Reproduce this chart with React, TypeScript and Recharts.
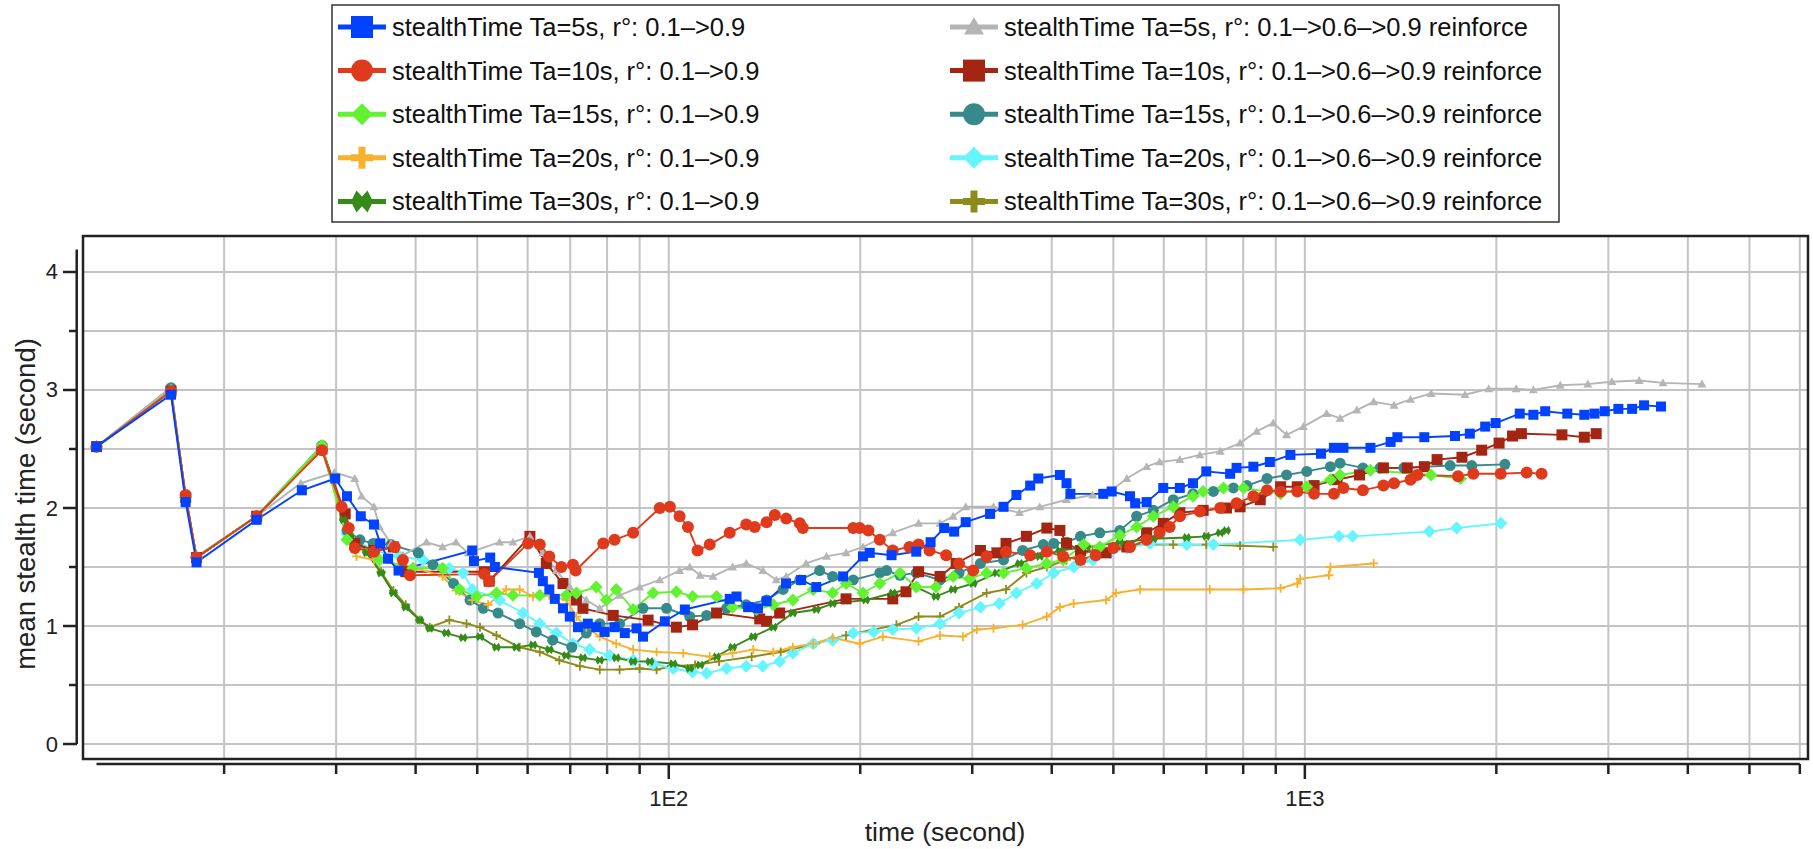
import { LineChart, Line, XAxis, YAxis, CartesianGrid, ReferenceLine, ReferenceArea } from 'recharts';

type Pt = [number, number];

// axis ticks
const xTicks = [20, 30, 40, 50, 60, 70, 80, 90, 100, 200, 300, 400, 500, 600, 700, 800, 900, 1000, 2000, 3000, 4000, 5000, 6000];
const xTickLabels: Record<number, string> = { 100: '1E2', 1000: '1E3' };
const yTicks = [0, 0.5, 1, 1.5, 2, 2.5, 3, 3.5, 4];
const xDomain: [number, number] = [12, 6180];
const yDomain: [number, number] = [-0.127, 4.305];

// series, [time, mean stealth time]
const ta5: Pt[] = [[12.6, 2.52], [16.5, 2.96], [17.4, 2.05], [18.1, 1.54], [22.5, 1.9], [26.5, 2.15], [29.9, 2.25], [31.2, 2.1], [32.8, 1.93], [34.4, 1.86], [35.2, 1.7], [36.2, 1.57], [37.6, 1.47], [49.1, 1.64], [49.4, 1.55], [52.4, 1.58], [53.3, 1.5], [62.5, 1.45], [63.4, 1.38], [64.9, 1.31], [66.2, 1.23], [68.2, 1.15], [69.9, 1.08], [72, 0.99], [74.6, 1.02], [76.9, 0.99], [79.3, 0.95], [82.2, 0.99], [85.3, 0.94], [89, 0.98], [91.1, 0.91], [98.6, 1.04], [106, 1.14], [124.7, 1.23], [127.8, 1.25], [133.3, 1.16], [138.1, 1.15], [142.5, 1.21], [152.9, 1.36], [161.5, 1.39], [170.6, 1.33], [188, 1.42], [202, 1.59], [207, 1.62], [224, 1.6], [245, 1.63], [258, 1.71], [271, 1.83], [281, 1.8], [293, 1.88], [320, 1.95], [336, 2.01], [352, 2.11], [370, 2.19], [381, 2.25], [412, 2.28], [422, 2.21], [428, 2.12], [482, 2.12], [497, 2.14], [531, 2.1], [541, 2.04], [564, 2.05], [599, 2.17], [636, 2.17], [667, 2.21], [700, 2.31], [763, 2.29], [781, 2.34], [830, 2.35], [881, 2.39], [949, 2.45], [1060, 2.46], [1111, 2.51], [1150, 2.51], [1268, 2.51], [1364, 2.56], [1398, 2.6], [1541, 2.6], [1722, 2.61], [1817, 2.63], [1921, 2.69], [1995, 2.72], [2177, 2.8], [2287, 2.79], [2387, 2.82], [2586, 2.8], [2750, 2.79], [2853, 2.8], [2961, 2.82], [3111, 2.84], [3270, 2.84], [3414, 2.87], [3630, 2.86]];
const ta10: Pt[] = [[12.6, 2.52], [16.5, 2.99], [17.4, 2.11], [18.1, 1.58], [22.5, 1.93], [28.5, 2.49], [30.6, 2.01], [31.4, 1.83], [32.1, 1.66], [34.4, 1.63], [37.1, 1.67], [38.2, 1.56], [39.2, 1.43], [51.3, 1.44], [52.2, 1.38], [60.1, 1.7], [62.7, 1.69], [64.9, 1.59], [67.8, 1.5], [70.7, 1.52], [71.4, 1.47], [78.9, 1.7], [82.2, 1.73], [87.9, 1.79], [96.8, 2.0], [100.4, 2.01], [104, 1.93], [107.2, 1.84], [111, 1.64], [116, 1.69], [124.7, 1.79], [132.4, 1.86], [136.5, 1.84], [142.5, 1.88], [146.8, 1.94], [153, 1.91], [160.7, 1.87], [162.5, 1.83], [195, 1.83], [199.6, 1.83], [206, 1.81], [214.7, 1.73], [225, 1.64], [239, 1.67], [247, 1.69], [257, 1.64], [273, 1.6], [286, 1.53], [301, 1.47], [316, 1.59], [339, 1.63], [370, 1.6], [393, 1.63], [417, 1.59], [444, 1.56], [469, 1.6], [500, 1.66], [531, 1.67], [564, 1.73], [591, 1.79], [613, 1.84], [636, 1.93], [684, 1.97], [736, 2.0], [781, 2.04], [830, 2.1], [872, 2.15], [916, 2.14], [973, 2.14], [1034, 2.12], [1111, 2.12], [1150, 2.17], [1234, 2.15], [1329, 2.19], [1381, 2.21], [1466, 2.24], [1502, 2.28], [1741, 2.27], [1840, 2.29], [2032, 2.29], [2232, 2.3], [2356, 2.29]];
const ta15: Pt[] = [[12.6, 2.52], [16.5, 2.99], [17.4, 2.09], [18.1, 1.58], [22.5, 1.93], [28.5, 2.53], [31.2, 1.73], [35.1, 1.56], [39.6, 1.49], [44.1, 1.49], [46.9, 1.31], [49.9, 1.25], [53.6, 1.28], [56.9, 1.26], [62.7, 1.26], [69, 1.26], [71.6, 1.28], [76.9, 1.33], [79.8, 1.22], [82.7, 1.31], [87.9, 1.14], [94.5, 1.28], [102.8, 1.29], [109, 1.25], [118.9, 1.25], [126, 1.16], [137.4, 1.14], [146, 1.18], [156.7, 1.22], [168.7, 1.31], [181, 1.28], [190, 1.36], [202, 1.28], [214.7, 1.36], [231, 1.45], [245, 1.33], [263, 1.33], [280, 1.42], [297, 1.4], [316, 1.45], [336, 1.45], [365, 1.49], [393, 1.53], [417, 1.56], [449, 1.69], [476, 1.67], [512, 1.77], [544, 1.84], [578, 1.93], [621, 2.01], [667, 2.1], [692, 2.14], [745, 2.17], [801, 2.17], [916, 2.12], [1007, 2.18], [1097, 2.24], [1136, 2.28], [1268, 2.32], [1579, 2.28], [1757, 2.25]];
const ta20: Pt[] = [[12.6, 2.52], [16.5, 2.99], [17.4, 2.09], [18.1, 1.58], [22.5, 1.93], [28.5, 2.5], [32.3, 1.59], [34.4, 1.56], [39.6, 1.5], [44.1, 1.42], [46.3, 1.3], [49.1, 1.22], [52, 1.18], [55.5, 1.31], [58.3, 1.31], [61.2, 1.25], [64.9, 1.26], [69, 1.22], [71.6, 1.08], [74.2, 0.99], [77.9, 0.91], [82.7, 0.85], [87.9, 0.8], [95.7, 0.78], [105.4, 0.77], [116, 0.74], [126, 0.77], [135.8, 0.8], [146, 0.78], [156.7, 0.82], [168.7, 0.85], [181, 0.9], [199.6, 0.85], [217, 0.91], [247, 0.87], [267, 0.92], [290, 0.91], [305, 0.97], [324, 0.98], [360, 1.01], [393, 1.08], [412, 1.16], [433, 1.19], [487, 1.22], [505, 1.28], [551, 1.31], [709, 1.31], [801, 1.31], [916, 1.32], [973, 1.36], [983, 1.4], [1091, 1.43], [1097, 1.5], [1283, 1.53]];
const ta30: Pt[] = [[12.6, 2.52], [16.5, 2.99], [17.4, 2.09], [18.1, 1.58], [22.5, 1.93], [28.5, 2.5], [30.8, 1.9], [31.5, 1.76], [33.5, 1.62], [35.3, 1.45], [36.9, 1.28], [38.6, 1.16], [40.6, 1.05], [42.1, 0.98], [44.7, 0.94], [47.5, 0.9], [50.5, 0.91], [53.6, 0.82], [57.6, 0.82], [61.2, 0.84], [64.9, 0.8], [69, 0.75], [73.3, 0.73], [77.9, 0.71], [82.7, 0.73], [87.9, 0.7], [93.4, 0.7], [101.6, 0.68], [107.9, 0.64], [112, 0.67], [118.9, 0.74], [126, 0.82], [135.8, 0.91], [146, 0.99], [156.7, 1.11], [170.6, 1.14], [181, 1.19], [204, 1.22], [225, 1.28], [245, 1.33], [263, 1.25], [280, 1.31], [301, 1.36], [328, 1.45], [356, 1.53], [383, 1.59], [412, 1.64], [454, 1.67], [512, 1.71], [578, 1.74], [652, 1.75], [700, 1.76], [736, 1.79], [753, 1.81]];
const ta5r: Pt[] = [[12.6, 2.52], [16.5, 3.02], [17.4, 2.09], [18.1, 1.59], [22.5, 1.93], [26.4, 2.21], [29.8, 2.3], [32.1, 2.25], [32.9, 2.1], [34.4, 2.01], [35.1, 1.84], [36.6, 1.7], [38.2, 1.6], [41.6, 1.71], [44.1, 1.67], [46.3, 1.71], [48.4, 1.62], [54.2, 1.71], [56.9, 1.71], [60.5, 1.76], [63.4, 1.62], [66.6, 1.47], [69.9, 1.33], [74.2, 1.22], [77.9, 1.15], [83.7, 1.26], [90, 1.33], [96.8, 1.39], [104, 1.47], [107.9, 1.5], [112, 1.43], [117.4, 1.42], [126, 1.5], [132.4, 1.53], [140.6, 1.47], [147.6, 1.39], [153, 1.42], [164.4, 1.53], [177, 1.59], [190, 1.62], [202, 1.67], [225, 1.79], [247, 1.87], [267, 1.87], [280, 1.93], [293, 2.01], [324, 2.01], [356, 1.96], [383, 2.01], [422, 2.07], [464, 2.11], [494, 2.14], [525, 2.25], [564, 2.35], [591, 2.39], [636, 2.41], [684, 2.45], [736, 2.48], [791, 2.55], [840, 2.65], [892, 2.72], [936, 2.62], [995, 2.69], [1082, 2.8], [1136, 2.76], [1207, 2.83], [1283, 2.9], [1381, 2.87], [1466, 2.92], [1579, 2.97], [1786, 2.96], [1946, 3.01], [2149, 3.01], [2287, 3.0], [2521, 3.04], [2785, 3.05], [3038, 3.07], [3354, 3.08], [3656, 3.06], [4210, 3.05]];
const ta10r: Pt[] = [[12.6, 2.52], [16.5, 2.99], [17.4, 2.09], [18.1, 1.58], [22.5, 1.93], [28.5, 2.5], [31, 1.95], [32.1, 1.7], [34.4, 1.64], [36.9, 1.67], [38.6, 1.46], [51.3, 1.46], [52.2, 1.38], [60.5, 1.76], [64.2, 1.53], [68.2, 1.36], [71.6, 1.22], [73.3, 1.15], [81.8, 1.09], [92.8, 1.05], [102.8, 0.99], [109, 1.01], [118.9, 1.11], [139, 1.06], [142.5, 1.04], [149.4, 1.11], [190, 1.23], [225, 1.23], [236, 1.29], [247, 1.46], [267, 1.42], [283, 1.53], [309, 1.64], [328, 1.62], [339, 1.7], [365, 1.76], [393, 1.83], [412, 1.81], [422, 1.7], [444, 1.64], [487, 1.62], [525, 1.67], [564, 1.79], [599, 1.87], [636, 1.96], [692, 1.98], [753, 2.0], [791, 2.01], [851, 2.07], [916, 2.18], [973, 2.18], [1034, 2.19], [1124, 2.24], [1219, 2.28], [1329, 2.34], [1449, 2.34], [1541, 2.35], [1614, 2.41], [1766, 2.43], [1897, 2.49], [2020, 2.55], [2121, 2.61], [2190, 2.63], [2536, 2.62], [2750, 2.6], [2871, 2.63]];
const ta15r: Pt[] = [[12.6, 2.52], [16.5, 3.02], [17.4, 2.09], [18.1, 1.58], [22.5, 1.93], [28.5, 2.53], [31.2, 1.81], [32.7, 1.73], [34.3, 1.7], [36.6, 1.69], [40.4, 1.62], [42.6, 1.52], [45.9, 1.36], [48.7, 1.22], [51.1, 1.15], [53.9, 1.11], [58.3, 1.02], [61.9, 0.95], [65.7, 0.88], [70.4, 0.82], [74.2, 0.94], [77.9, 1.02], [83.7, 1.02], [91.1, 1.15], [99.2, 1.15], [107.9, 1.08], [114.7, 1.09], [123.3, 1.15], [132.4, 1.18], [142.5, 1.22], [151.3, 1.31], [160.7, 1.39], [172.7, 1.47], [181, 1.42], [195, 1.39], [214.7, 1.45], [220, 1.47], [231, 1.43], [245, 1.45], [267, 1.39], [286, 1.45], [309, 1.53], [336, 1.56], [360, 1.64], [388, 1.69], [403, 1.7], [422, 1.71], [444, 1.76], [476, 1.79], [512, 1.81], [544, 1.93], [578, 1.98], [621, 2.07], [667, 2.12], [718, 2.14], [772, 2.17], [811, 2.19], [872, 2.25], [936, 2.28], [1007, 2.31], [1097, 2.35], [1136, 2.38], [1234, 2.34], [1313, 2.34], [1431, 2.34], [1692, 2.36], [1830, 2.36], [2063, 2.37]];
const ta20r: Pt[] = [[12.6, 2.52], [16.5, 2.99], [17.4, 2.09], [18.1, 1.58], [22.5, 1.93], [28.5, 2.5], [31.2, 1.78], [34.3, 1.64], [37.7, 1.59], [41.1, 1.56], [45.2, 1.49], [47.5, 1.45], [49.1, 1.31], [54.2, 1.22], [59, 1.11], [62.7, 1.02], [66.6, 0.94], [70.7, 0.85], [75.1, 0.8], [80.8, 0.75], [87.9, 0.71], [94.5, 0.68], [101.6, 0.64], [109, 0.61], [114.7, 0.6], [123.3, 0.64], [132.4, 0.66], [140.6, 0.66], [149.4, 0.7], [156.7, 0.77], [168.7, 0.85], [181, 0.88], [195, 0.94], [210, 0.95], [225, 0.97], [245, 0.98], [267, 1.02], [286, 1.11], [309, 1.16], [331, 1.19], [352, 1.28], [379, 1.36], [403, 1.45], [433, 1.5], [464, 1.56], [494, 1.62], [525, 1.66], [571, 1.7], [652, 1.69], [718, 1.69], [983, 1.73], [1131, 1.76], [1189, 1.76], [1569, 1.8], [1732, 1.83], [2033, 1.87]];
const ta30r: Pt[] = [[12.6, 2.52], [16.5, 2.99], [17.4, 2.09], [18.1, 1.58], [22.5, 1.93], [28.5, 2.5], [31.5, 1.78], [33.5, 1.63], [35.3, 1.46], [36.9, 1.3], [38.6, 1.18], [40.6, 1.05], [42.1, 0.99], [45.2, 1.05], [48.1, 1.02], [50.5, 0.99], [53.6, 0.92], [58.3, 0.82], [62.7, 0.78], [67.3, 0.71], [72.5, 0.66], [77.9, 0.63], [83.7, 0.63], [90, 0.64], [95.7, 0.63], [101, 0.66], [110, 0.67], [120, 0.7], [135, 0.74], [150, 0.78], [170, 0.85], [190, 0.92], [210, 0.97], [228, 1.01], [247, 1.08], [267, 1.08], [286, 1.16], [316, 1.28], [339, 1.31], [365, 1.45], [393, 1.5], [422, 1.56], [464, 1.64], [525, 1.69], [621, 1.69], [700, 1.69], [791, 1.68], [892, 1.67]];

type Shape = 'square' | 'circle' | 'diamond' | 'plus' | 'bowtie' | 'triangle';

const series = [
  { key: 'ta5', name: 'stealthTime Ta=5s, r°: 0.1–>0.9', pts: ta5, color: '#0042ff', shape: 'square' as Shape, size: 10 },
  { key: 'ta10', name: 'stealthTime Ta=10s, r°: 0.1–>0.9', pts: ta10, color: '#e03a1c', shape: 'circle' as Shape, size: 12 },
  { key: 'ta15', name: 'stealthTime Ta=15s, r°: 0.1–>0.9', pts: ta15, color: '#62f232', shape: 'diamond' as Shape, size: 13 },
  { key: 'ta20', name: 'stealthTime Ta=20s, r°: 0.1–>0.9', pts: ta20, color: '#f6b12e', shape: 'plus' as Shape, size: 9 },
  { key: 'ta30', name: 'stealthTime Ta=30s, r°: 0.1–>0.9', pts: ta30, color: '#358a19', shape: 'bowtie' as Shape, size: 9 },
  { key: 'ta5r', name: 'stealthTime Ta=5s, r°: 0.1–>0.6–>0.9 reinforce', pts: ta5r, color: '#b5b5b5', shape: 'triangle' as Shape, size: 9 },
  { key: 'ta10r', name: 'stealthTime Ta=10s, r°: 0.1–>0.6–>0.9 reinforce', pts: ta10r, color: '#a32512', shape: 'square' as Shape, size: 11 },
  { key: 'ta15r', name: 'stealthTime Ta=15s, r°: 0.1–>0.6–>0.9 reinforce', pts: ta15r, color: '#378a8a', shape: 'circle' as Shape, size: 11 },
  { key: 'ta20r', name: 'stealthTime Ta=20s, r°: 0.1–>0.6–>0.9 reinforce', pts: ta20r, color: '#66f5ff', shape: 'diamond' as Shape, size: 13 },
  { key: 'ta30r', name: 'stealthTime Ta=30s, r°: 0.1–>0.6–>0.9 reinforce', pts: ta30r, color: '#8d8b19', shape: 'plus' as Shape, size: 9 },
];
// back to front
const drawOrder = ['ta30r', 'ta20r', 'ta15r', 'ta10r', 'ta5r', 'ta30', 'ta20', 'ta15', 'ta10', 'ta5'];

const FONT = '"Liberation Sans", Arial, sans-serif';
const INK = '#222';

function Marker({ shape, cx, cy, s, color, w = 1.8 }: { shape: Shape; cx: number; cy: number; s: number; color: string; w?: number }) {
  const h = s / 2;
  switch (shape) {
    case 'square':
      return <rect x={cx - h} y={cy - h} width={s} height={s} fill={color} />;
    case 'circle':
      return <circle cx={cx} cy={cy} r={h} fill={color} />;
    case 'diamond':
      return <polygon points={`${cx},${cy - h} ${cx + h},${cy} ${cx},${cy + h} ${cx - h},${cy}`} fill={color} />;
    case 'triangle':
      return <polygon points={`${cx},${cy - h} ${cx + h},${cy + h * 0.75} ${cx - h},${cy + h * 0.75}`} fill={color} />;
    case 'plus':
      return <path d={`M${cx - h},${cy}H${cx + h}M${cx},${cy - h}V${cy + h}`} stroke={color} strokeWidth={w} />;
    case 'bowtie': {
      const q = s / 4;
      return (
        <polygon
          points={`${cx - h},${cy} ${cx - q},${cy - h} ${cx},${cy - h * 0.45} ${cx + q},${cy - h} ${cx + h},${cy} ${cx + q},${cy + h} ${cx},${cy + h * 0.45} ${cx - q},${cy + h}`}
          fill={color}
        />
      );
    }
  }
  return null;
}

// eslint-disable-next-line @typescript-eslint/no-explicit-any
function YTick({ x, y, payload }: any) {
  const v = payload.value as number;
  const major = Number.isInteger(v);
  return (
    <g>
      <line x1={x - 6} x2={x - (major ? 20 : 14)} y1={y} y2={y} stroke={INK} strokeWidth={2.5} />
      {major && (
        <text x={x - 25} y={y} textAnchor="end" dominantBaseline="central" fontSize={22} fontFamily={FONT} fill={INK}>
          {v}
        </text>
      )}
    </g>
  );
}

// eslint-disable-next-line @typescript-eslint/no-explicit-any
function XTick({ x, y, payload }: any) {
  const label = xTickLabels[payload.value as number];
  return (
    <g>
      <line x1={x} x2={x} y1={y + 5} y2={y + (label ? 20 : 15)} stroke={INK} strokeWidth={2.5} />
      {label && (
        <text x={x} y={y + 39} textAnchor="middle" dominantBaseline="central" fontSize={22} fontFamily={FONT} fill={INK}>
          {label}
        </text>
      )}
    </g>
  );
}

function LegendBox() {
  const rows = 5;
  return (
    <svg width={1813} height={849} style={{ position: 'absolute', left: 0, top: 0, pointerEvents: 'none' }}>
      <rect x={332} y={5} width={1227} height={217} fill="#fff" stroke="#333" strokeWidth={1.5} />
      {series.map((s, i) => {
        const col = Math.floor(i / rows);
        const row = i % rows;
        const left = col === 0 ? 338 : 950;
        const cy = 27 + row * 43.6;
        const cx = left + 24;
        const big = s.shape === 'triangle' ? 20 : 22;
        return (
          <g key={s.key}>
            <line x1={left} x2={left + 48} y1={cy} y2={cy} stroke={s.color} strokeWidth={5} />
            <Marker shape={s.shape} cx={cx} cy={cy} s={big} color={s.color} w={7} />
            <text x={left + 54} y={cy} dominantBaseline="central" fontSize={25.5} fontFamily={FONT} fill="#111">
              {s.name}
            </text>
          </g>
        );
      })}
      <text x={945} y={832} textAnchor="middle" dominantBaseline="central" fontSize={26.5} fontFamily={FONT} fill={INK}>
        time (second)
      </text>
      <text
        x={25}
        y={504}
        transform="rotate(-90 25 504)"
        textAnchor="middle"
        dominantBaseline="central"
        fontSize={27.5}
        fontFamily={FONT}
        fill={INK}
      >
        mean stealth time (second)
      </text>
    </svg>
  );
}

export default function App() {
  const byKey = Object.fromEntries(series.map((s) => [s.key, s]));
  return (
    <div style={{ position: 'absolute', left: 0, top: 0, width: 1813, height: 849, background: '#fff' }}>
      <LineChart width={1813} height={849} margin={{ top: 236, right: 5, bottom: 30, left: 23 }}>
        <CartesianGrid stroke="#c4c4c4" strokeWidth={2} />
        <XAxis
          type="number" dataKey="x" scale="log" domain={xDomain} allowDataOverflow
          ticks={xTicks} interval={0} height={60}
          axisLine={false} tickLine={false} tickSize={0} tickMargin={0}
          tick={<XTick />}
        />
        <YAxis
          type="number" dataKey="y" domain={yDomain} allowDataOverflow
          ticks={yTicks} interval={0} width={60}
          axisLine={false} tickLine={false} tickSize={0} tickMargin={0}
          tick={<YTick />}
        />
        <ReferenceArea
          x1={xDomain[0]} x2={xDomain[1]} y1={yDomain[0]} y2={yDomain[1]}
          fill="none" fillOpacity={0} stroke={INK} strokeWidth={2.5} ifOverflow="visible"
        />
        {/* offset axis lines, Igor style */}
        <ReferenceLine segment={[{ x: 11.73, y: 0 }, { x: 11.73, y: 4.19 }]} stroke={INK} strokeWidth={2.5} ifOverflow="visible" />
        <ReferenceLine segment={[{ x: 12.6, y: -0.17 }, { x: 6000, y: -0.17 }]} stroke={INK} strokeWidth={2.5} ifOverflow="visible" />
        {drawOrder.map((k) => {
          const s = byKey[k];
          const data = s.pts.map(([x, y]) => ({ x, y }));
          return (
            <Line
              key={k}
              data={data}
              dataKey="y"
              type="linear"
              stroke={s.color}
              strokeWidth={1.9}
              isAnimationActive={false}
              activeDot={false}
              // eslint-disable-next-line @typescript-eslint/no-explicit-any
              dot={(p: any) => (
                <Marker key={`${k}-${p.index}`} shape={s.shape} cx={p.cx} cy={p.cy} s={s.size} color={s.color} />
              )}
            />
          );
        })}
      </LineChart>
      <LegendBox />
    </div>
  );
}
